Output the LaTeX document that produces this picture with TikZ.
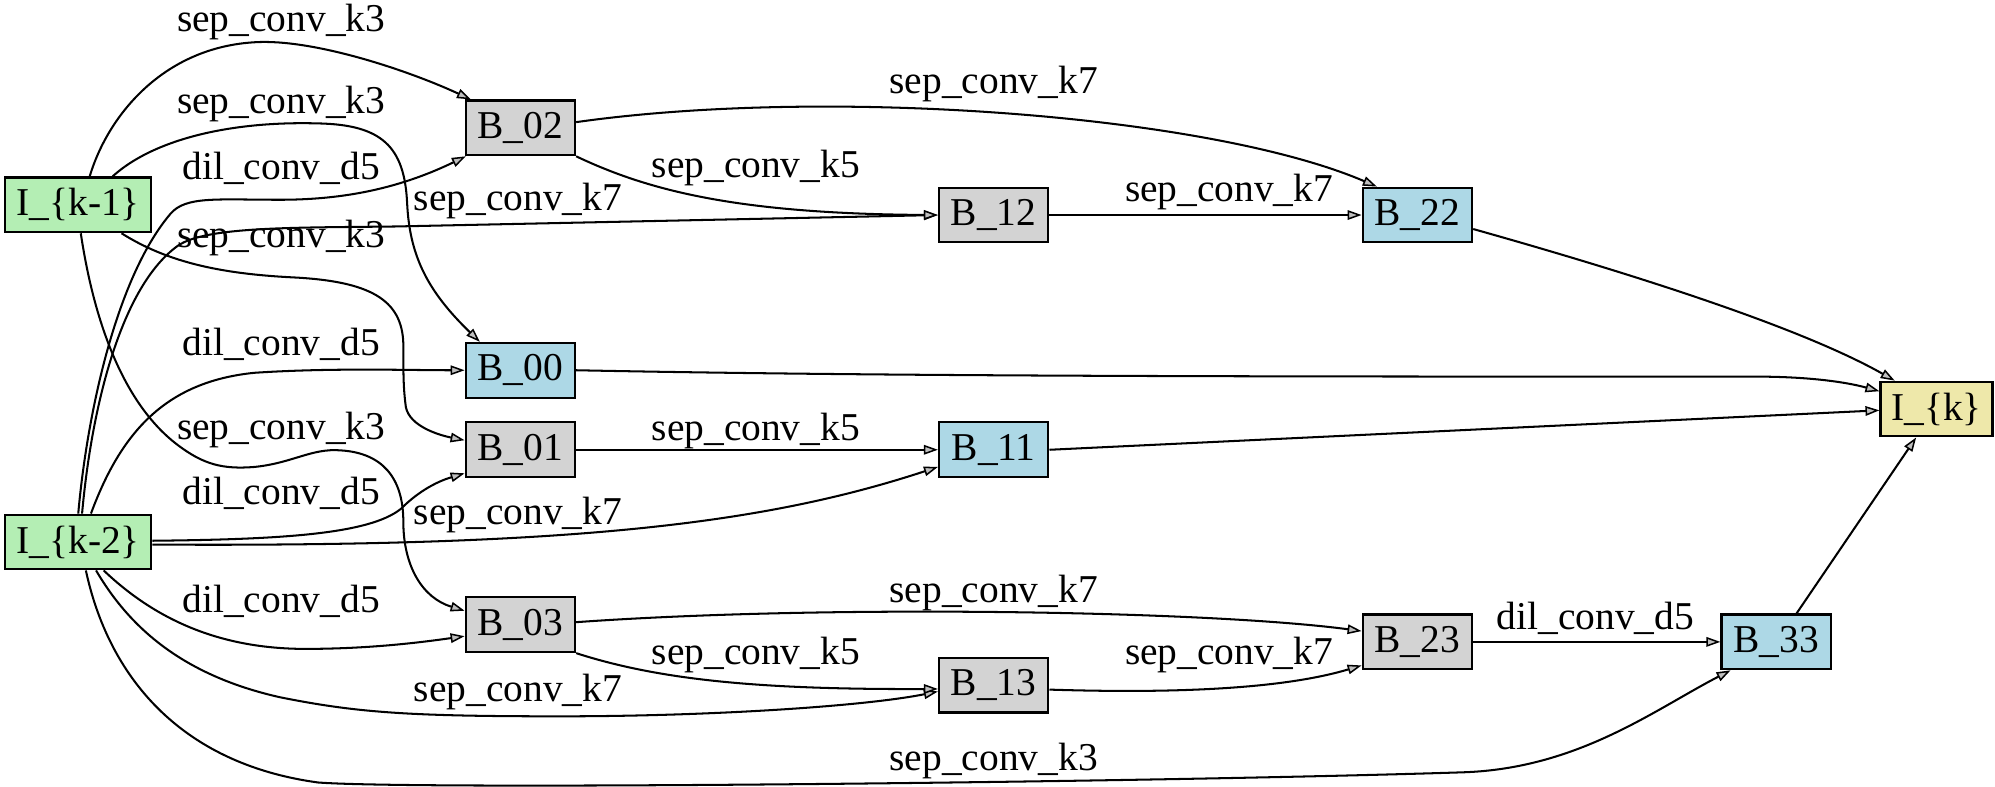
\documentclass[tikz,border=0pt]{standalone}
\usepackage{fontspec}
\setmainfont{Liberation Serif}
\usetikzlibrary{arrows.meta}
\definecolor{dsg}{HTML}{B4EEB4}
\definecolor{lgray}{HTML}{D3D3D3}
\definecolor{lblue}{HTML}{ADD8E6}
\definecolor{pgold}{HTML}{EEE8AA}
\begin{document}
\begin{tikzpicture}[x=1pt,y=-1pt,
  box/.style={draw=black,line width=1.7pt,minimum height=43pt,inner sep=0pt,font=\fontsize{31}{31}\selectfont},
  bnode/.style={box,minimum width=86pt},
  gnode/.style={bnode,fill=lgray},
  cnode/.style={bnode,fill=lblue},
  inode/.style={box,minimum width=115pt,fill=dsg},
  onode/.style={box,minimum width=88pt,fill=pgold},
  e/.style={line width=1.6pt,-{Triangle[length=11pt,width=7.5pt,fill=gray!50,line width=1.2pt]}},
  lab/.style={font=\fontsize{31}{31}\selectfont,inner sep=0pt}]
\useasboundingbox (0,0) rectangle (1568,618);
% nodes
\node[inode] (k1) at (61.5,161) {I\_\{k-1\}};
\node[inode] (k2) at (61.5,426) {I\_\{k-2\}};
\node[gnode] (b02) at (409,100.5) {B\_02};
\node[cnode] (b00) at (409,291) {B\_00};
\node[gnode] (b01) at (409,353.5) {B\_01};
\node[gnode] (b03) at (409,491) {B\_03};
\node[gnode] (b12) at (781,169) {B\_12};
\node[cnode] (b11) at (781,353.5) {B\_11};
\node[gnode] (b13) at (781,538.5) {B\_13};
\node[cnode] (b22) at (1114,169) {B\_22};
\node[gnode] (b23) at (1114,504.5) {B\_23};
\node[cnode] (b33) at (1396,504.5) {B\_33};
\node[onode] (ik) at (1522,321.5) {I\_\{k\}};
% labels
\node[lab] (l1) at (221,17) {sep\_conv\_k3};
\node[lab] (l2) at (221,82) {sep\_conv\_k3};
\node[lab] (l3) at (221,132) {dil\_conv\_d5};
\node[lab] (l4) at (407,158) {sep\_conv\_k7};
\node[lab] (l5) at (221,187) {sep\_conv\_k3};
\node[lab] (l6) at (221,271) {dil\_conv\_d5};
\node[lab] (l7) at (221,338) {sep\_conv\_k3};
\node[lab] (l8) at (221,388) {dil\_conv\_d5};
\node[lab] (l9) at (407,405) {sep\_conv\_k7};
\node[lab] (l10) at (221,473) {dil\_conv\_d5};
\node[lab] (l11) at (407,544) {sep\_conv\_k7};
\node[lab] (l12) at (781,598) {sep\_conv\_k3};
\node[lab] (l13) at (781,66) {sep\_conv\_k7};
\node[lab] (l14) at (594,132) {sep\_conv\_k5};
\node[lab] (l15) at (966,151) {sep\_conv\_k7};
\node[lab] (l16) at (594,339) {sep\_conv\_k5};
\node[lab] (l17) at (781,466) {sep\_conv\_k7};
\node[lab] (l18) at (594,515) {sep\_conv\_k5};
\node[lab] (l19) at (966,515) {sep\_conv\_k7};
\node[lab] (l20) at (1254,486) {dil\_conv\_d5};
% edges from I_{k-1}
\draw[e] ([xshift=9pt]k1.north) .. controls (85,90) and (130,35) .. (205,33) .. controls (250,32) and (320,55) .. ([xshift=5pt]b02.north west);
\draw[e] ([xshift=27pt]k1.north) .. controls (120,110) and (180,95) .. (250,97) .. controls (300,98) and (318,115) .. (320,160) .. controls (322,200) and (335,228) .. ([xshift=12pt]b00.north west);
\draw[e] ([xshift=34pt]k1.south) .. controls (130,205) and (170,215) .. (230,218) .. controls (290,221) and (316,235) .. (317,270) .. controls (317,295) and (317,305) .. (319,320) .. controls (322,335) and (345,342) .. ([yshift=7.5pt]b01.west);
\draw[e] ([xshift=2pt]k1.south) .. controls (75,260) and (100,320) .. (140,350) .. controls (160,365) and (175,369) .. (200,367) .. controls (230,364) and (245,352) .. (268,354) .. controls (300,356) and (317,375) .. (317,410) .. controls (317,445) and (332,470) .. ([yshift=11pt]b03.west);
% edges from I_{k-2}
\draw[e] (k2.north) .. controls (68,330) and (90,220) .. (134,168) .. controls (146,154) and (170,157) .. (220,157) .. controls (265,157) and (310,150) .. ([xshift=1pt]b02.south west);
\draw[e] ([xshift=3pt]k2.north) .. controls (72,320) and (95,225) .. (140,193) .. controls (162,178) and (230,179) .. (311,178) -- (b12.west);
\draw[e] ([xshift=10pt]k2.north) .. controls (95,340) and (130,300) .. (200,293) .. controls (260,289) and (320,291) .. (b00.west);
\draw[e] ([yshift=1pt]k2.east) .. controls (220,424) and (290,420) .. (315,400) .. controls (330,385) and (345,378) .. ([yshift=-18.5pt]b01.west);
\draw[e] ([yshift=-2pt]k2.east) .. controls (450,430) and (600,412) .. ([yshift=-13.5pt]b11.west);
\draw[e] ([xshift=20pt]k2.south) .. controls (120,485) and (170,510) .. (240,510) .. controls (290,510) and (330,505) .. ([yshift=-9pt]b03.west);
\draw[e] ([xshift=14pt]k2.south) .. controls (100,490) and (140,530) .. (220,548) .. controls (280,560) and (320,563) .. (440,563) .. controls (560,563) and (680,555) .. ([yshift=-5pt]b13.west);
\draw[e] ([xshift=6pt]k2.south) .. controls (85,530) and (140,600) .. (250,615) .. controls (330,621) and (900,615) .. (1150,607) .. controls (1240,604) and (1300,558) .. ([xshift=8pt]b33.south west);
% intermediate edges
\draw[e] ([yshift=4.5pt]b02.east) .. controls (650,68) and (950,90) .. ([xshift=12pt]b22.north west);
\draw[e] (b02.south east) .. controls (510,150) and (580,168) .. (b12.west);
\draw[e] (b12.east) -- (b22.west);
\draw[e] (b01.east) -- (b11.west);
\draw[e] ([yshift=2pt]b03.east) .. controls (650,475) and (950,480) .. ([yshift=8.5pt]b23.west);
\draw[e] (b03.south east) .. controls (520,535) and (600,542) .. ([yshift=-3pt]b13.west);
\draw[e] ([yshift=-3.5pt]b13.east) .. controls (950,546) and (1020,538) .. ([yshift=-18.5pt]b23.west);
\draw[e] (b23.east) -- (b33.west);
% outputs
\draw[e] ([yshift=-11pt]b22.east) .. controls (1300,220) and (1420,260) .. ([xshift=12pt]ik.north west);
\draw[e] (b00.east) .. controls (700,296) and (1000,296) .. (1380,296) .. controls (1420,296) and (1450,300) .. ([yshift=14pt]ik.west);
\draw[e] (b11.east) -- ([yshift=-1pt]ik.west);
\draw[e] ([xshift=16pt]b33.north) -- ([xshift=-16pt]ik.south);
\end{tikzpicture}
\end{document}
